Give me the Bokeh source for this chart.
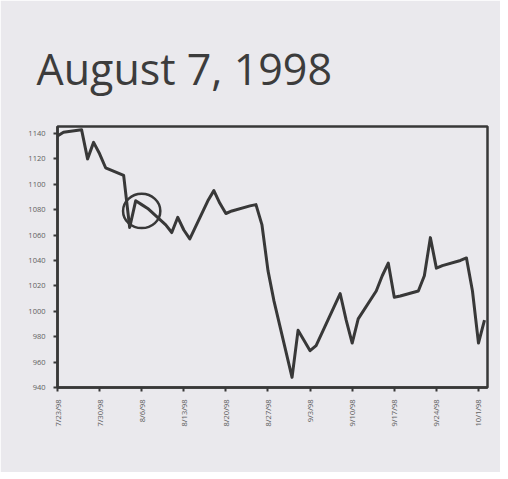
import pandas as pd
from bokeh.plotting import figure
from bokeh.models import Range1d, FixedTicker
from bokeh.embed import file_html
from bokeh.resources import INLINE
from math import pi

# ---- data (S&P-like daily closes) ----
dates = ["1998-07-23", "1998-07-24", "1998-07-27", "1998-07-28", "1998-07-29",
         "1998-07-30", "1998-07-31", "1998-08-03", "1998-08-04", "1998-08-05",
         "1998-08-06", "1998-08-07", "1998-08-10", "1998-08-11", "1998-08-12",
         "1998-08-13", "1998-08-14", "1998-08-17", "1998-08-18", "1998-08-19",
         "1998-08-20", "1998-08-21", "1998-08-24", "1998-08-25", "1998-08-26",
         "1998-08-27", "1998-08-28", "1998-08-31", "1998-09-01", "1998-09-02",
         "1998-09-03", "1998-09-04", "1998-09-08", "1998-09-09", "1998-09-10",
         "1998-09-11", "1998-09-14", "1998-09-15", "1998-09-16", "1998-09-17",
         "1998-09-18", "1998-09-21", "1998-09-22", "1998-09-23", "1998-09-24",
         "1998-09-25", "1998-09-28", "1998-09-29", "1998-09-30", "1998-10-01",
         "1998-10-02"]
values = [1138, 1141, 1143, 1120, 1133,
          1124, 1113, 1107, 1066, 1087,
          1084, 1081, 1068, 1062, 1074,
          1064, 1057, 1087, 1095, 1085,
          1077, 1079, 1083, 1084, 1068,
          1032, 1008, 948, 985, 977,
          969, 973, 1014, 993, 975,
          994, 1016, 1028, 1038, 1011,
          1012, 1016, 1028, 1058, 1034,
          1036, 1040, 1042, 1016, 975,
          993]
x_tick_labels = ["7/23/98", "7/30/98", "8/6/98", "8/13/98", "8/20/98", "8/27/98",
                 "9/3/98", "9/10/98", "9/17/98", "9/24/98", "10/1/98"]
y_ticks = [940, 960, 980, 1000, 1020, 1040, 1060, 1080, 1100, 1120, 1140]
title_text = "August 7, 1998"
highlight_date = "1998-08-06"
highlight_value = 1079

# ---- derived ----
start = pd.Timestamp(dates[0])
days = [(pd.Timestamp(d) - start).days for d in dates]
tick_days = [(pd.to_datetime(t, format="%m/%d/%y") - start).days for t in x_tick_labels]
hl_day = (pd.Timestamp(highlight_date) - start).days

BG = "#eae9ed"
INK = "#383838"

p = figure(width=500, height=472, output_backend="svg", toolbar_location=None,
           x_range=Range1d(0, 71.5), y_range=Range1d(940, 1145.5),
           min_border_left=57, min_border_right=13, min_border_top=126,
           min_border_bottom=85)
p.background_fill_color = BG
p.border_fill_color = BG
p.outline_line_color = INK
p.outline_line_width = 2.5
p.xgrid.grid_line_color = None
p.ygrid.grid_line_color = None

p.title.text = title_text
p.title.text_font = "Open Sans"
p.title.text_font_size = "43px"
p.title.text_font_style = "normal"
p.title.text_color = "#3c3c3c"
p.title.align = "left"
p.title.offset = -21
p.title.standoff = 58

for ax in (p.xaxis[0], p.yaxis[0]):
    ax.axis_line_color = INK
    ax.axis_line_width = 2.5
    ax.major_tick_line_color = INK
    ax.major_tick_line_width = 2
    ax.major_tick_out = 4
    ax.major_tick_in = 0
    ax.minor_tick_line_color = None
    ax.major_label_text_font = "Open Sans"
    ax.major_label_text_color = "#606060"

p.xaxis.ticker = FixedTicker(ticks=tick_days)
p.xaxis.major_label_overrides = {d: lab for d, lab in zip(tick_days, x_tick_labels)}
p.xaxis.major_label_orientation = pi / 2
p.xaxis.major_label_text_font_size = "7.5px"
p.xaxis.major_label_standoff = 8

p.yaxis.ticker = FixedTicker(ticks=y_ticks)
p.yaxis.major_label_text_font_size = "7.5px"
p.yaxis.major_label_standoff = 8

p.line(days, values, line_width=3, line_color=INK, line_join="round")
p.ellipse(x=[hl_day], y=[highlight_value], width=6.2, height=27,
          fill_color=None, line_color=INK, line_width=2.5)

open("out.html", "w").write(file_html(p, INLINE))
